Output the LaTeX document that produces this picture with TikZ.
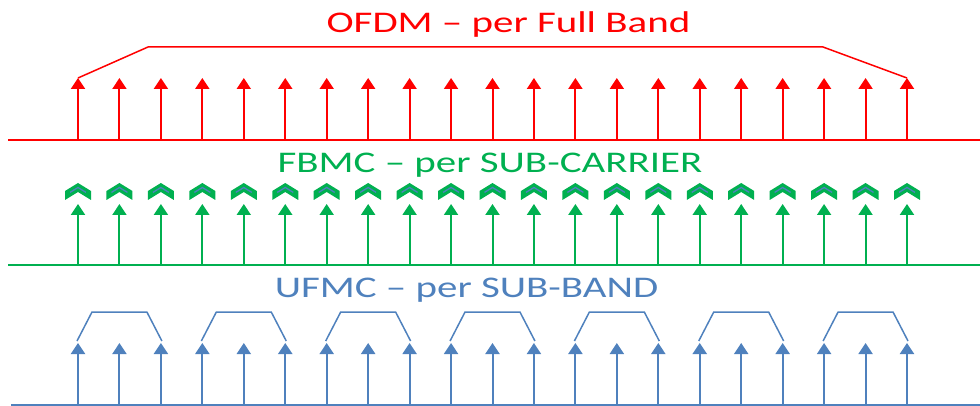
\documentclass[tikz,border=0pt]{standalone}
\usepackage{fontspec}
\setmainfont{Carlito}
\usepackage{tikz}
\usetikzlibrary{arrows.meta}
\definecolor{ofdmred}{HTML}{FF0000}
\definecolor{fbmcgreen}{HTML}{00B050}
\definecolor{ufmcblue}{HTML}{4F81BD}
\tikzset{
  carrier/.style={-{Triangle[width=14pt,length=11pt]},line width=2pt},
  outline/.style={line width=1.5pt},
  title/.style={anchor=base,inner sep=0pt,font=\fontsize{30}{36}\selectfont},
}

\begin{document}
\begin{tikzpicture}[x=1pt,y=-1pt]
    \useasboundingbox (0,0) rectangle (980,406);
    % OFDM
    \node[title,text=ofdmred] (ofdm) at (508.5,33) {\scalebox{1.365}[1]{OFDM – per Full Band}};
    \draw[ofdmred,line width=2pt] (8,140) -- (980,140);
    \foreach \i in {0,...,20} {
      \coordinate (r\i) at ({78+\i*41.45},78);
      \draw[carrier,ofdmred] (r\i |- 0,140) -- (r\i);
    }
    \draw[ofdmred,outline] (r0) -- (148,47) -- (823,47) -- (r20);
    % FBMC
    \node[title,text=fbmcgreen] (fbmc) at (490,173) {\scalebox{1.365}[1]{FBMC – per SUB-CARRIER}};
    \draw[fbmcgreen,line width=2pt] (8,265) -- (980,265);
    \foreach \i in {0,...,20} {
      \coordinate (g\i) at ({78+\i*41.45},204);
      \draw[carrier,fbmcgreen] (g\i |- 0,265) -- (g\i);
      \fill[fbmcgreen] ([shift={(0,-21)}]g\i) -- ++(13,8) -- ++(0,9) -- ++(-13,-8)
        -- ++(-13,8) -- ++(0,-9) -- cycle;
      \draw[ufmcblue,line width=1.3pt] ([shift={(-8,-11.6)}]g\i) -- ++(8,-4.9) -- ++(8,4.9);
    }
    % UFMC
    \node[title,text=ufmcblue] (ufmc) at (466.5,297) {\scalebox{1.365}[1]{UFMC – per SUB-BAND}};
    \draw[ufmcblue,line width=2pt] (11,405) -- (980,405);
    \foreach \i in {0,...,20} {
      \coordinate (b\i) at ({78+\i*41.45},343);
      \draw[carrier,ufmcblue] (b\i |- 0,405) -- (b\i);
    }
    \foreach \k [evaluate=\k as \a using int(3*\k), evaluate=\k as \c using int(3*\k+2)] in {0,...,6}
      \draw[ufmcblue,outline] ([shift={(-1,-2)}]b\a) -- ++(15,-29)
        -- ([shift={(-14,-31)}]b\c) -- ([shift={(1,-2)}]b\c);
\end{tikzpicture}
\end{document}
